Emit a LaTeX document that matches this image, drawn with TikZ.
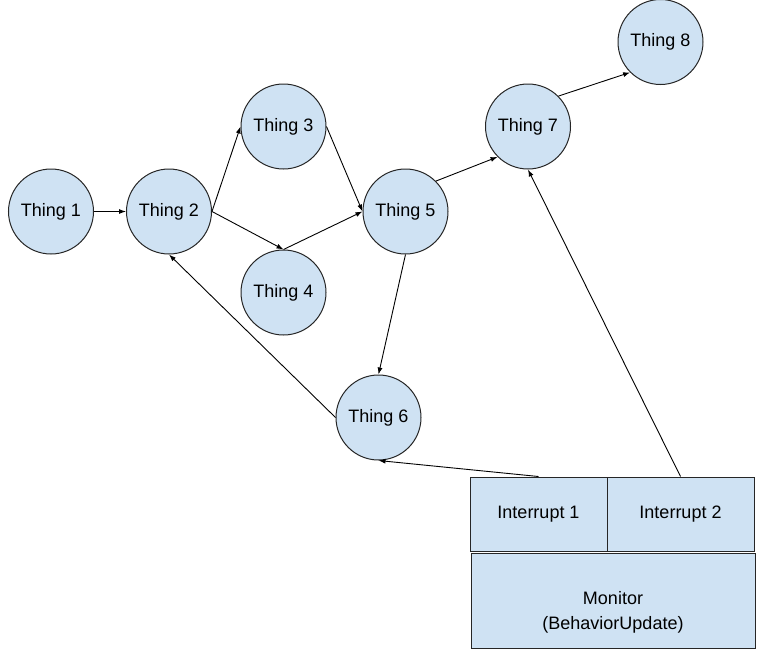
\documentclass[tikz,border=0pt]{standalone}
\usepackage{fontspec}
\setmainfont{Liberation Sans}
\usetikzlibrary{arrows.meta}
\definecolor{thingblue}{HTML}{CFE2F3}

\begin{document}
\begin{tikzpicture}[x=1pt, y=-1pt,
	thing/.style={circle, draw=black!85, fill=thingblue, line width=1pt, minimum size=85pt, inner sep=0pt, font=\fontsize{18}{21}\selectfont},
	block/.style={rectangle, draw=black!85, fill=thingblue, line width=1pt, inner sep=0pt, align=center, font=\fontsize{18}{25}\selectfont},
	link/.style={line width=0.9pt, -{Latex[length=7pt, width=5pt]}}]
	\useasboundingbox (0,0) rectangle (777,672);
	
	% things
	\node[thing] (t1) at (51, 211.5) {Thing 1};
	\node[thing] (t2) at (169, 211.5) {Thing 2};
	\node[thing] (t3) at (283.5, 126.5) {Thing 3};
	\node[thing] (t4) at (283.5, 292.5) {Thing 4};
	\node[thing] (t5) at (405.5, 211.5) {Thing 5};
	\node[thing] (t6) at (378.5, 417.5) {Thing 6};
	\node[thing] (t7) at (528, 126.5) {Thing 7};
	\node[thing] (t8) at (660.5, 42) {Thing 8};
	
	% monitor
	\node[block, minimum width=137pt, minimum height=74pt] (i1) at (538.5, 514) {Interrupt 1};
	\node[block, minimum width=147pt, minimum height=74pt] (i2) at (680.5, 514) {Interrupt 2};
	\node[block, minimum width=284pt, minimum height=95pt] (mon) at (613, 600.5) {\rule{0pt}{37pt}Monitor\\(BehaviorUpdate)};
	
	\draw[link] (t1) -- (t2);
	\draw[link] (t2.east) -- (t3.west);
	\draw[link] (t2.east) -- (t4.north);
	\draw[link] (t3.east) -- (t5.west);
	\draw[link] (t4.north) -- (t5.west);
	\draw[link] (t5.45) -- (t7.225);
	\draw[link] (t7.45) -- (t8.225);
	\draw[link] (t5.south) -- (t6.north);
	\draw[link] (t6.west) -- (t2.south);
	\draw[link] (i1.north) -- (t6.south);
	\draw[link] (i2.north) -- (t7.south);
\end{tikzpicture}
\end{document}
